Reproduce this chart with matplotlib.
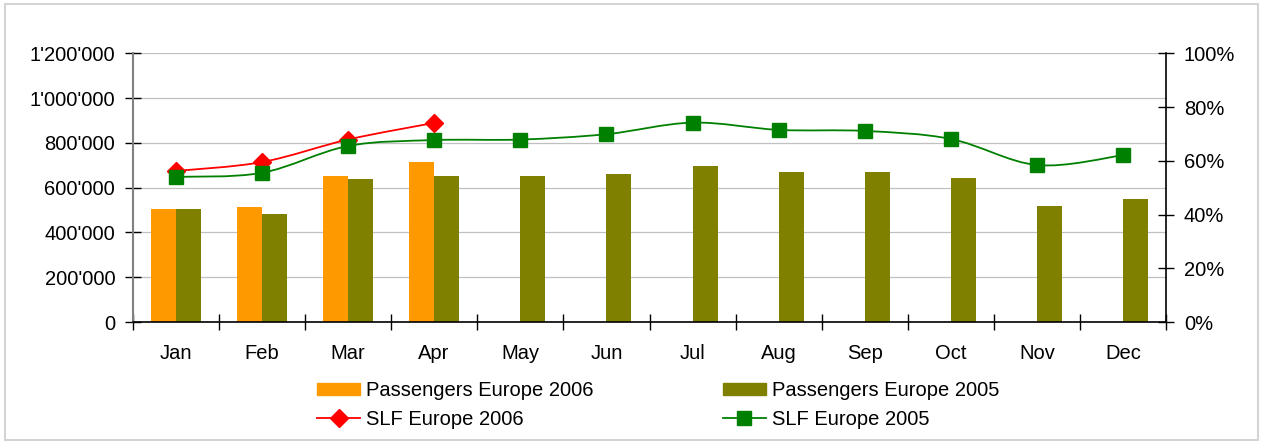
import matplotlib
matplotlib.use("Agg")
import matplotlib.pyplot as plt
from matplotlib.path import Path
from matplotlib.patches import PathPatch, Rectangle
from matplotlib.lines import Line2D
from matplotlib.ticker import FuncFormatter, MultipleLocator, FixedLocator
import numpy as np

months = ["Jan", "Feb", "Mar", "Apr", "May", "Jun", "Jul", "Aug", "Sep", "Oct", "Nov", "Dec"]
pax_2006 = [504000, 513000, 651000, 714000]
pax_2005 = [504000, 482000, 638000, 651000, 651000, 660000, 696000, 669000, 669000, 642000, 517000, 549000]
slf_2006 = [0.562, 0.595, 0.679, 0.741]
slf_2005 = [0.540, 0.555, 0.655, 0.677, 0.679, 0.699, 0.742, 0.715, 0.711, 0.681, 0.584, 0.621]

FS = 14.5
plt.rcParams['font.family'] = ['Liberation Sans', 'DejaVu Sans']
plt.rcParams['font.size'] = FS

W, H = 1263, 444
fig = plt.figure(figsize=(W / 100, H / 100), dpi=100)
fig.patches.append(Rectangle((5 / W, 4 / H), (1258 - 5) / W, (440 - 4) / H,
                             transform=fig.transFigure, fill=False,
                             edgecolor='#d4d4d4', lw=1.5, zorder=0))

x0, x1, ytop, ybot = 132.5, 1166.5, 53.3, 322
ax = fig.add_axes([x0 / W, 1 - ybot / H, (x1 - x0) / W, (ybot - ytop) / H])
ax2 = ax.twinx()

n = len(months)
xs = np.arange(n)
bw = 0.29
ax.bar(xs[:len(pax_2006)] - bw / 2, pax_2006, width=bw, color='#FF9900', zorder=2)
ax.bar(xs + bw / 2, pax_2005, width=bw, color='#808000', zorder=2)

ax.set_xlim(-0.5, n - 0.5)
ax.set_ylim(0, 1200000)
ax.yaxis.set_major_locator(MultipleLocator(200000))
ax.yaxis.set_major_formatter(FuncFormatter(lambda v, p: f"{int(v):,}".replace(",", "'")))
ax.grid(axis='y', color='#c0c0c0', lw=0.9, zorder=0)
ax.set_axisbelow(True)

ax.xaxis.set_major_locator(FixedLocator(np.arange(-0.5, n, 1.0)))
ax.xaxis.set_major_formatter(FuncFormatter(lambda v, p: ""))
ax.set_xticks(xs, months, minor=True)
ax.tick_params(axis='x', which='major', direction='inout', length=11, width=1, color='black')
ax.tick_params(axis='x', which='minor', length=0, pad=16, labelsize=FS)
ax.tick_params(axis='y', direction='inout', length=11, width=1, color='black', pad=7, labelsize=FS)

ax2.set_ylim(0, 1.0)
ax2.yaxis.set_major_locator(MultipleLocator(0.2))
ax2.yaxis.set_major_formatter(FuncFormatter(lambda v, p: f"{int(round(v * 100))}%"))
ax2.tick_params(axis='y', direction='inout', length=11, width=1, color='black', pad=7, labelsize=FS)

ax.spines['top'].set_visible(False)
ax2.spines['top'].set_visible(False)
ax.spines['right'].set_visible(False)
ax2.spines['left'].set_visible(False)
ax2.spines['bottom'].set_visible(False)
ax.spines['left'].set_color('#808080')
ax.spines['left'].set_linewidth(1.5)
ax.spines['bottom'].set_color('black')
ax.spines['bottom'].set_linewidth(1.2)
ax2.spines['right'].set_color('black')
ax2.spines['right'].set_linewidth(1.2)


def smooth_path(xv, yv):
    pts = np.column_stack([xv, yv]).astype(float)
    m = len(pts)
    verts = [pts[0]]
    codes = [Path.MOVETO]
    for i in range(m - 1):
        p0 = pts[i - 1] if i > 0 else pts[i]
        p1 = pts[i]
        p2 = pts[i + 1]
        p3 = pts[i + 2] if i + 2 < m else pts[i + 1]
        c1 = p1 + (p2 - p0) / 6.0
        c2 = p2 - (p3 - p1) / 6.0
        verts += [c1, c2, p2]
        codes += [Path.CURVE4] * 3
    return Path(verts, codes)


red, green = '#FF0000', '#008000'
ax2.add_patch(PathPatch(smooth_path(xs[:len(slf_2006)], slf_2006), fill=False,
                        edgecolor=red, lw=1.3, zorder=3))
ax2.plot(xs[:len(slf_2006)], slf_2006, ls='none', marker='D', ms=9, color=red,
         markeredgecolor=red, zorder=4)
ax2.add_patch(PathPatch(smooth_path(xs, slf_2005), fill=False,
                        edgecolor=green, lw=1.3, zorder=5))
ax2.plot(xs, slf_2005, ls='none', marker='s', ms=10, color=green,
         markeredgecolor=green, zorder=6)

handles = [
    Rectangle((0, 0), 1, 1, color='#FF9900'),
    Line2D([], [], color=red, lw=1.3, marker='D', ms=9),
    Rectangle((0, 0), 1, 1, color='#808000'),
    Line2D([], [], color=green, lw=1.3, marker='s', ms=10),
]
labels = ["Passengers Europe 2006", "SLF Europe 2006", "Passengers Europe 2005", "SLF Europe 2005"]
fig.legend(handles, labels, ncol=2, loc='upper left',
           bbox_to_anchor=(317 / W, 1 - 381 / H), frameon=False, fontsize=FS,
           handlelength=2.14, handleheight=0.6, handletextpad=0.3, columnspacing=6.4,
           labelspacing=0.5, borderpad=0, borderaxespad=0)

fig.savefig("out.png", dpi=100)
